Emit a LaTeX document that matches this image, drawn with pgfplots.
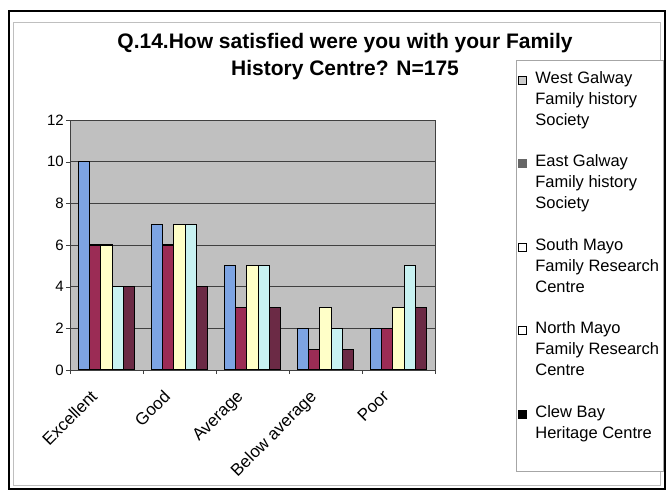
\documentclass[border=0pt]{standalone}
\usepackage{pgfplots}
\pgfplotsset{compat=1.18}
\usepackage{fontspec}
\setmainfont{Liberation Sans}
\definecolor{cA}{HTML}{7DA4E3}
\definecolor{cB}{HTML}{9B2C55}
\definecolor{cC}{HTML}{FFFFC8}
\definecolor{cD}{HTML}{C8F2F2}
\definecolor{cE}{HTML}{6B2A45}
\definecolor{plotbg}{HTML}{C0C0C0}
\begin{document}
\begin{tikzpicture}
\useasboundingbox (0,0) rectangle (667bp,491bp);
\fill[white] (0,0) rectangle (667bp,491bp);
\draw[gray!50, line width=0.8bp] (13bp,469bp) rectangle (660bp,6bp);
\draw[black, line width=2.2bp] (9bp,480bp) rectangle (665bp,2bp);
\node[align=center, font=\bfseries\fontsize{21bp}{27bp}\selectfont] at (345bp,434.5bp) {Q.14.How satisfied were you with your Family\\History Centre? N=175};
\begin{axis}[
  at={(70bp,121bp)}, anchor=south west,
  scale only axis, width=365bp, height=250bp,
  xmin=-0.5, xmax=4.5, ymin=0, ymax=12,
  ybar=0pt, bar width=11.2bp,
  axis background/.style={fill=plotbg},
  axis line style={draw=gray!50!black, line width=0.8bp},
  ytick={0,2,...,12},
  ymajorgrids, grid style={black!75, line width=0.7bp},
  xtick={0,1,2,3,4},
  xticklabels={Excellent,Good,Average,Below average,Poor},
  xtick style={draw=none},
  extra x ticks={-0.5,0.5,1.5,2.5,3.5,4.5},
  extra x tick labels={},
  extra x tick style={xtick style={draw=gray!50!black}, tick align=outside, major tick length=4bp},
  ytick style={draw=gray!50!black},
  xtick pos=bottom, ytick pos=left,
  tick align=outside, major tick length=4bp,
  /pgf/number format/assume math mode=true,
  y tick label style={font=\fontsize{15bp}{17bp}\selectfont, inner sep=2bp},
  x tick label style={rotate=45, anchor=north east, font=\fontsize{17bp}{19bp}\selectfont, inner sep=1bp, xshift=-21.5bp, yshift=2.5bp},
  legend style={at={(1.2219,1.24)}, anchor=north west, draw=gray!70, line width=0.8bp,
    fill=white, font=\fontsize{16.5bp}{21bp}\selectfont, nodes={align=left, inner xsep=3bp}, row sep=24bp,
    inner xsep=1bp, inner ysep=9bp},
  legend cell align=left,
  leg/.style={legend image code/.code={\path[draw=none,fill=none] (0bp,0bp) -- (15bp,0bp); \draw[##1, line width=0.6bp] (1bp,15bp) rectangle (9bp,23bp);}},
]
\addplot[fill=cA, draw=black, line width=1.1bp, leg, legend image post style={fill=gray!40}] coordinates {(0,10) (1,7) (2,5) (3,2) (4,2)};
\addlegendentry{West Galway\\Family history\\Society}
\addplot[fill=cB, draw=black, line width=1.1bp, leg, legend image post style={fill=gray!80!black, draw=gray!80!black}] coordinates {(0,6) (1,6) (2,3) (3,1) (4,2)};
\addlegendentry{East Galway\\Family history\\Society}
\addplot[fill=cC, draw=black, line width=1.1bp, leg, legend image post style={fill=white}] coordinates {(0,6) (1,7) (2,5) (3,3) (4,3)};
\addlegendentry{South Mayo\\Family Research\\Centre}
\addplot[fill=cD, draw=black, line width=1.1bp, leg, legend image post style={fill=white}] coordinates {(0,4) (1,7) (2,5) (3,2) (4,5)};
\addlegendentry{North Mayo\\Family Research\\Centre}
\addplot[fill=cE, draw=black, line width=1.1bp, leg, legend image post style={fill=black}] coordinates {(0,4) (1,4) (2,3) (3,1) (4,3)};
\addlegendentry{Clew Bay\\Heritage Centre\\\mbox{}}
\end{axis}
\end{tikzpicture}
\end{document}
